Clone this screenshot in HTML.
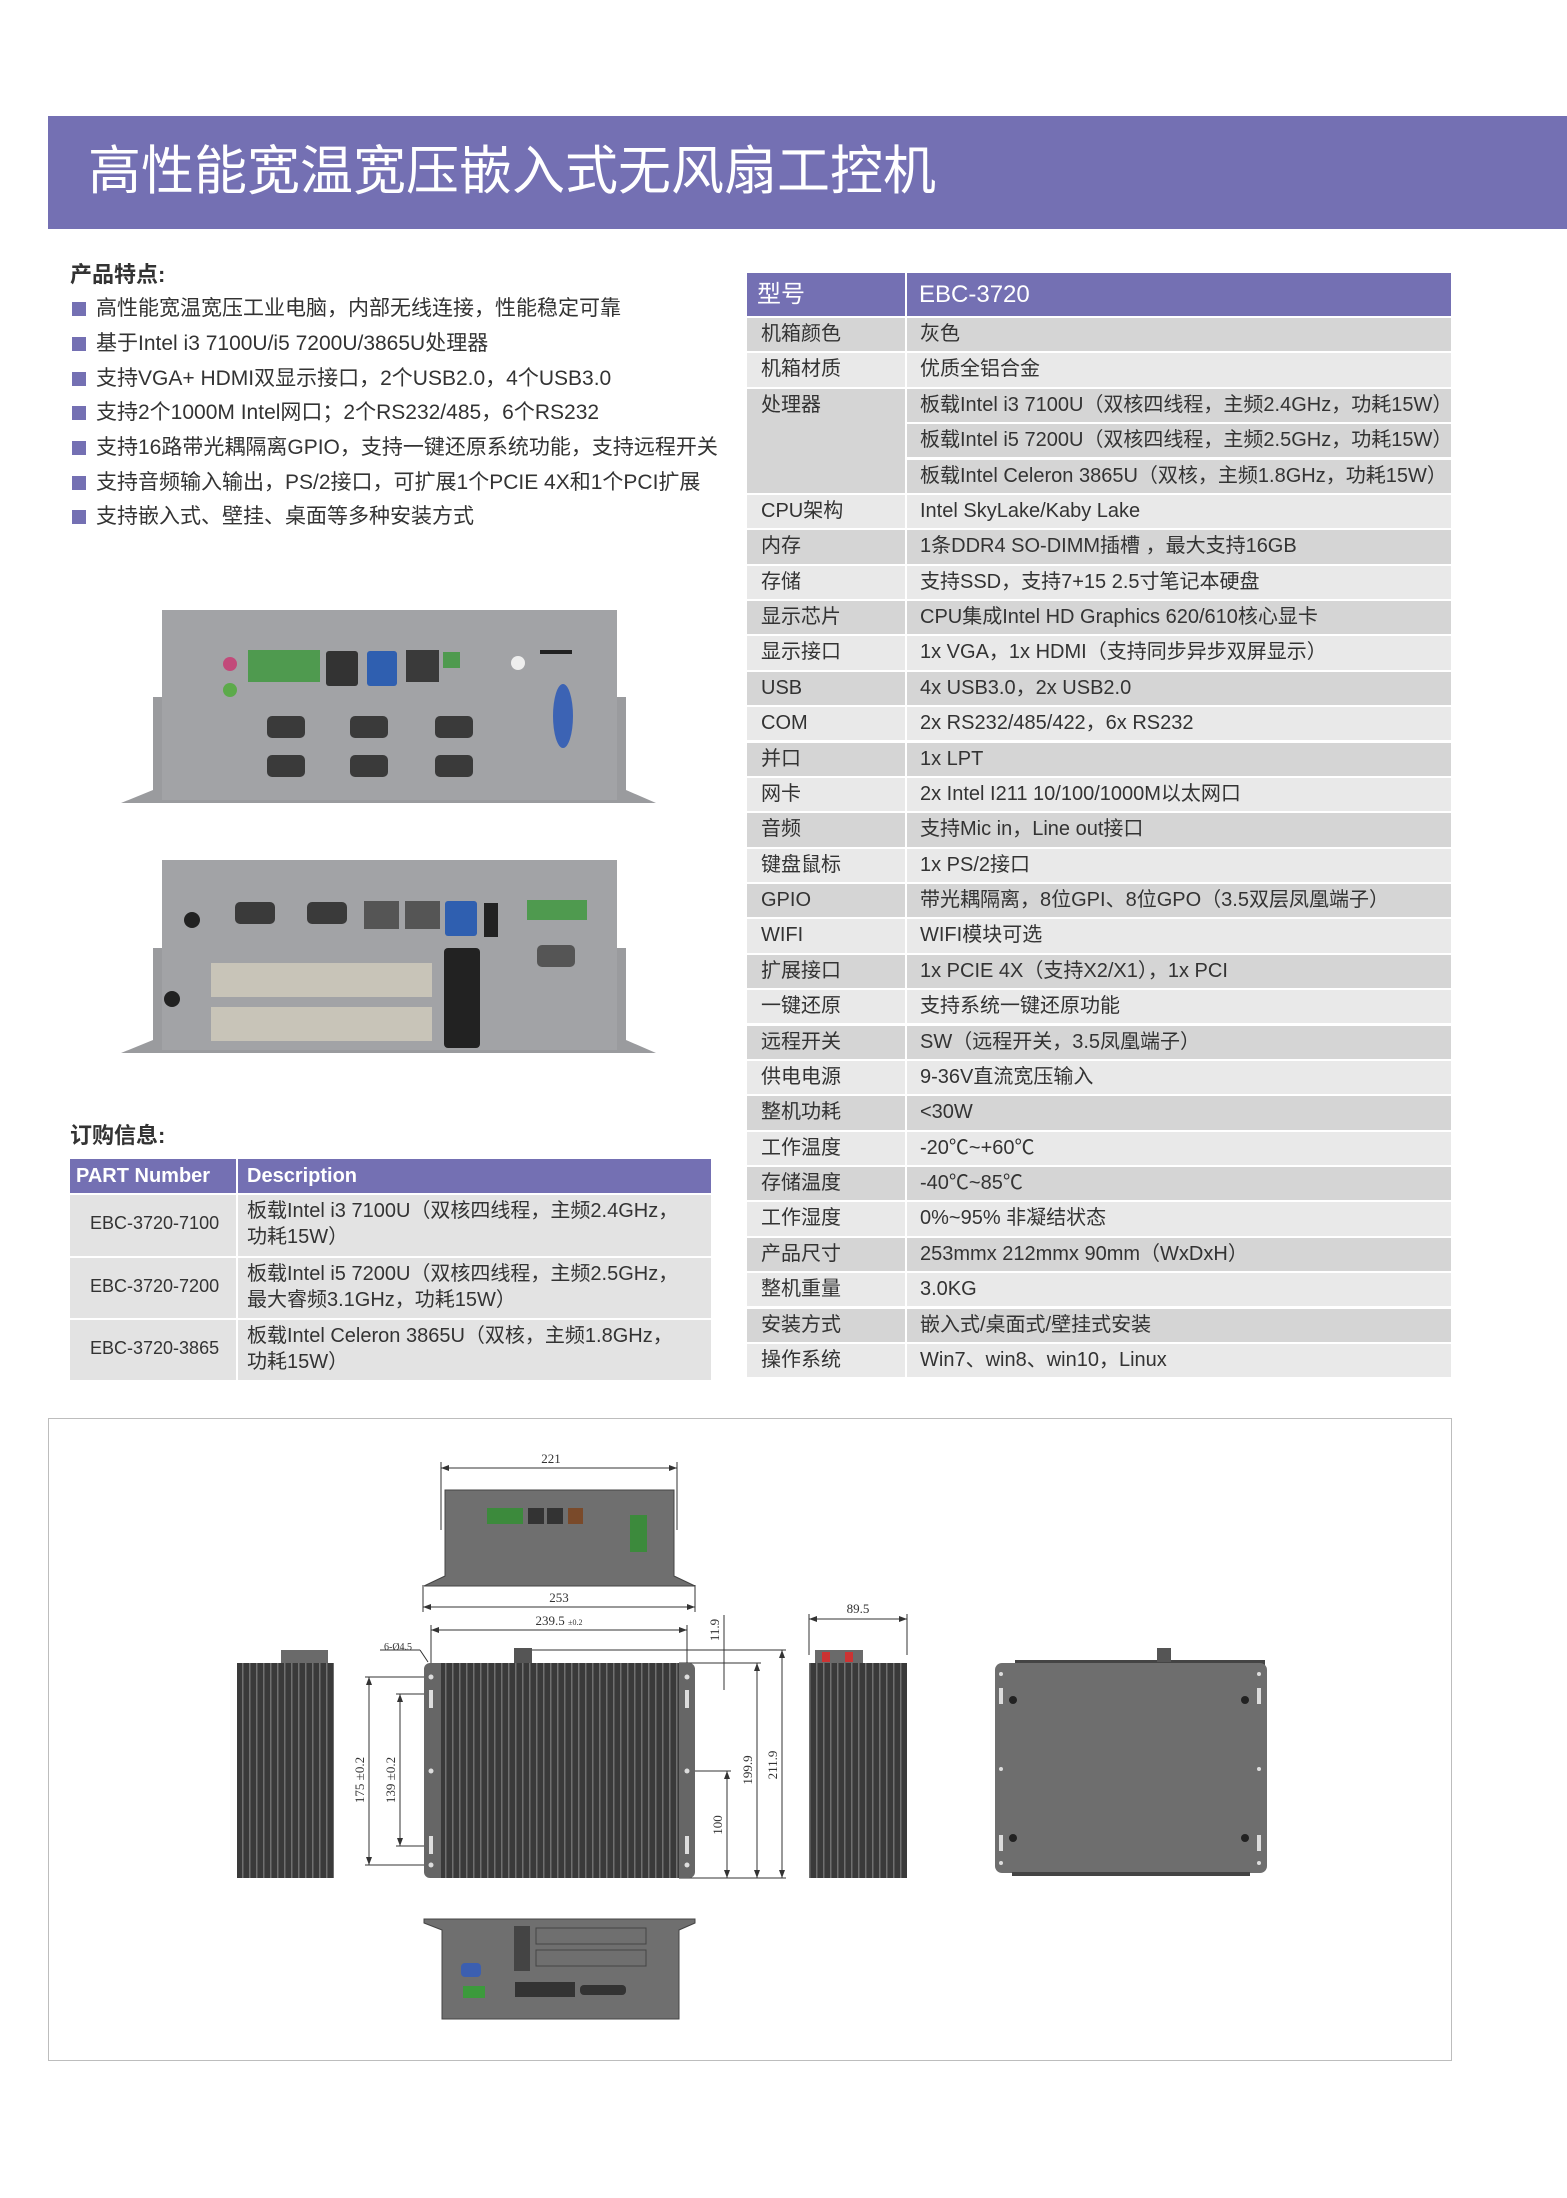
<!DOCTYPE html>
<html><head><meta charset="utf-8">
<style>
*{margin:0;padding:0;box-sizing:border-box}
body{width:1567px;height:2198px;background:#fff;position:relative;overflow:hidden;font-family:"Liberation Sans","Noto Sans CJK SC",sans-serif;color:#333}
.a{position:absolute}
.hdr{left:48px;top:116px;width:1519px;height:113px;background:#7470b3}
.title{left:88px;top:139px;color:#fff;font-size:53px;line-height:66px;letter-spacing:0px;white-space:nowrap}
.h2{font-size:22px;font-weight:bold;color:#333;white-space:nowrap}
.bl{left:72px;font-size:21px;line-height:28px;white-space:nowrap;color:#333}
.bl:before{content:"";display:inline-block;width:14px;height:14px;background:#7470b3;margin-right:10px;vertical-align:-1px}
.r{position:absolute;left:747px;width:704px;height:33.4px;font-size:20px;line-height:33px;color:#333;white-space:nowrap}
.r .l{position:absolute;left:0;top:0;width:158px;height:100%;padding-left:14px}
.r .v{position:absolute;left:160px;top:0;right:0;height:100%;padding-left:13px}
.d .l,.d .v{background:#d5d5d5}
.g .l,.g .v{background:#e9e9e9}
.ot{position:absolute;left:70px;width:641px;font-size:20px;color:#333}
</style></head><body>
<div class="a hdr"></div>
<div class="a title">高性能宽温宽压嵌入式无风扇工控机</div>

<div class="a h2" style="left:70px;top:257px">产品特点:</div>
<div class="a bl" style="top:295px">高性能宽温宽压工业电脑，内部无线连接，性能稳定可靠</div>
<div class="a bl" style="top:330px">基于Intel i3 7100U/i5 7200U/3865U处理器</div>
<div class="a bl" style="top:365px">支持VGA+ HDMI双显示接口，2个USB2.0，4个USB3.0</div>
<div class="a bl" style="top:399px">支持2个1000M Intel网口；2个RS232/485，6个RS232</div>
<div class="a bl" style="top:434px">支持16路带光耦隔离GPIO，支持一键还原系统功能，支持远程开关</div>
<div class="a bl" style="top:469px">支持音频输入输出，PS/2接口，可扩展1个PCIE 4X和1个PCI扩展</div>
<div class="a bl" style="top:503px">支持嵌入式、壁挂、桌面等多种安装方式</div>

<div class="r" style="top:273px;height:43px;color:#fff;font-size:24px;line-height:43px"><div class="l" style="background:#7470b3;padding-left:10px">型号</div><div class="v" style="background:#7470b3;padding-left:12px">EBC-3720</div></div>
<div class="r d" style="top:318.0px"><div class="l">机箱颜色</div><div class="v">灰色</div></div>
<div class="r g" style="top:353.4px"><div class="l">机箱材质</div><div class="v">优质全铝合金</div></div>
<div class="r d" style="top:388.7px;height:104px"><div class="l">处理器</div><div class="v" style="background:none"></div></div>
<div class="r d" style="top:388.7px;left:907px;width:544px"><div class="v" style="left:0">板载Intel i3 7100U（双核四线程，主频2.4GHz，功耗15W）</div></div>
<div class="r d" style="top:424.1px;left:907px;width:544px"><div class="v" style="left:0">板载Intel i5 7200U（双核四线程，主频2.5GHz，功耗15W）</div></div>
<div class="r d" style="top:459.5px;left:907px;width:544px"><div class="v" style="left:0">板载Intel Celeron 3865U（双核，主频1.8GHz，功耗15W）</div></div>
<div class="r g" style="top:494.9px"><div class="l">CPU架构</div><div class="v">Intel SkyLake/Kaby Lake</div></div>
<div class="r d" style="top:530.2px"><div class="l">内存</div><div class="v">1条DDR4 SO-DIMM插槽 ，最大支持16GB</div></div>
<div class="r g" style="top:565.6px"><div class="l">存储</div><div class="v">支持SSD，支持7+15 2.5寸笔记本硬盘</div></div>
<div class="r d" style="top:601.0px"><div class="l">显示芯片</div><div class="v">CPU集成Intel HD Graphics 620/610核心显卡</div></div>
<div class="r g" style="top:636.4px"><div class="l">显示接口</div><div class="v">1x VGA，1x HDMI（支持同步异步双屏显示）</div></div>
<div class="r d" style="top:671.7px"><div class="l">USB</div><div class="v">4x USB3.0，2x USB2.0</div></div>
<div class="r g" style="top:707.1px"><div class="l">COM</div><div class="v">2x RS232/485/422，6x RS232</div></div>
<div class="r d" style="top:742.5px"><div class="l">并口</div><div class="v">1x LPT</div></div>
<div class="r g" style="top:777.9px"><div class="l">网卡</div><div class="v">2x Intel I211 10/100/1000M以太网口</div></div>
<div class="r d" style="top:813.2px"><div class="l">音频</div><div class="v">支持Mic in，Line out接口</div></div>
<div class="r g" style="top:848.6px"><div class="l">键盘鼠标</div><div class="v">1x PS/2接口</div></div>
<div class="r d" style="top:884.0px"><div class="l">GPIO</div><div class="v">带光耦隔离，8位GPI、8位GPO（3.5双层凤凰端子）</div></div>
<div class="r g" style="top:919.4px"><div class="l">WIFI</div><div class="v">WIFI模块可选</div></div>
<div class="r d" style="top:954.7px"><div class="l">扩展接口</div><div class="v">1x PCIE 4X（支持X2/X1），1x PCI</div></div>
<div class="r g" style="top:990.1px"><div class="l">一键还原</div><div class="v">支持系统一键还原功能</div></div>
<div class="r d" style="top:1025.5px"><div class="l">远程开关</div><div class="v">SW（远程开关，3.5凤凰端子）</div></div>
<div class="r g" style="top:1060.9px"><div class="l">供电电源</div><div class="v">9-36V直流宽压输入</div></div>
<div class="r d" style="top:1096.2px"><div class="l">整机功耗</div><div class="v">&lt;30W</div></div>
<div class="r g" style="top:1131.6px"><div class="l">工作温度</div><div class="v">-20℃~+60℃</div></div>
<div class="r d" style="top:1167.0px"><div class="l">存储温度</div><div class="v">-40℃~85℃</div></div>
<div class="r g" style="top:1202.4px"><div class="l">工作湿度</div><div class="v">0%~95% 非凝结状态</div></div>
<div class="r d" style="top:1237.7px"><div class="l">产品尺寸</div><div class="v">253mmx 212mmx 90mm（WxDxH）</div></div>
<div class="r g" style="top:1273.1px"><div class="l">整机重量</div><div class="v">3.0KG</div></div>
<div class="r d" style="top:1308.5px"><div class="l">安装方式</div><div class="v">嵌入式/桌面式/壁挂式安装</div></div>
<div class="r g" style="top:1343.9px"><div class="l">操作系统</div><div class="v">Win7、win8、win10，Linux</div></div>

<div class="a h2" style="left:70px;top:1118px">订购信息:</div>
<div class="ot" style="top:1159px;height:34px;background:#7470b3;color:#fff;font-weight:bold;line-height:34px">
 <div class="a" style="left:6px">PART Number</div>
 <div class="a" style="left:166px;top:0;width:2px;height:34px;background:#fff"></div>
 <div class="a" style="left:177px">Description</div>
</div>
<div class="ot" style="top:1195px;height:61px;background:#e3e3e3">
 <div class="a" style="left:20px;top:18px;font-size:18px">EBC-3720-7100</div>
 <div class="a" style="left:166px;top:0;width:2px;height:61px;background:#fff"></div>
 <div class="a" style="left:177px;top:3px;line-height:26px">板载Intel i3 7100U（双核四线程，主频2.4GHz，<br>功耗15W）</div>
</div>
<div class="ot" style="top:1258px;height:60px;background:#e3e3e3">
 <div class="a" style="left:20px;top:18px;font-size:18px">EBC-3720-7200</div>
 <div class="a" style="left:166px;top:0;width:2px;height:60px;background:#fff"></div>
 <div class="a" style="left:177px;top:3px;line-height:26px">板载Intel i5 7200U（双核四线程，主频2.5GHz，<br>最大睿频3.1GHz，功耗15W）</div>
</div>
<div class="ot" style="top:1320px;height:60px;background:#e3e3e3">
 <div class="a" style="left:20px;top:18px;font-size:18px">EBC-3720-3865</div>
 <div class="a" style="left:166px;top:0;width:2px;height:60px;background:#fff"></div>
 <div class="a" style="left:177px;top:3px;line-height:26px">板载Intel Celeron 3865U（双核，主频1.8GHz，<br>功耗15W）</div>
</div>

<div class="a" style="left:48px;top:1418px;width:1404px;height:643px;border:1.5px solid #bdbdbd"></div>

<svg class="a" style="left:0;top:0" width="1567" height="2198" viewBox="0 0 1567 2198">
<defs>
<pattern id="fin" width="7" height="10" patternUnits="userSpaceOnUse">
<rect width="7" height="10" fill="#3a3a3a"/><rect x="4" width="1.5" height="10" fill="#707070"/>
</pattern>
<marker id="ar" markerWidth="8" markerHeight="8" refX="8" refY="4" orient="auto-start-reverse"><path d="M0,1 L8,4 L0,7 z" fill="#333"/></marker>
</defs>
<path d="M121,803 L153,790 L153,697 L162,697 L162,610 L617,610 L617,697 L626,697 L626,790 L656,803 Z" fill="#9a9b9e"/>
<rect x="162" y="610" width="455" height="190" fill="#a2a3a6"/>
<rect x="248" y="650" width="72" height="32" fill="#4f9a4f"/>
<rect x="326" y="651" width="32" height="35" rx="3" fill="#333"/>
<rect x="367" y="651" width="30" height="35" rx="3" fill="#2f5fb0"/>
<rect x="406" y="650" width="33" height="32" fill="#3a3a3a"/>
<rect x="443" y="652" width="17" height="16" fill="#4f9a4f"/>
<circle cx="230" cy="664" r="7" fill="#c24a7a"/><circle cx="230" cy="690" r="7" fill="#5caa4a"/>
<circle cx="518" cy="663" r="7" fill="#eee"/>
<rect x="540" y="650" width="32" height="4" fill="#222"/>
<ellipse cx="563" cy="716" rx="10" ry="32" fill="#3c63b4"/>
<g fill="#3a3a3a"><rect x="267" y="716" width="38" height="22" rx="5"/><rect x="350" y="716" width="38" height="22" rx="5"/><rect x="435" y="716" width="38" height="22" rx="5"/>
<rect x="267" y="755" width="38" height="22" rx="5"/><rect x="350" y="755" width="38" height="22" rx="5"/><rect x="435" y="755" width="38" height="22" rx="5"/></g>
<path d="M121,1053 L153,1040 L153,948 L162,948 L162,860 L617,860 L617,948 L626,948 L626,1040 L656,1053 Z" fill="#9a9b9e"/>
<rect x="162" y="860" width="455" height="190" fill="#a2a3a6"/>
<circle cx="192" cy="920" r="8" fill="#222"/><circle cx="172" cy="999" r="8" fill="#222"/>
<g fill="#3a3a3a"><rect x="235" y="902" width="40" height="22" rx="5"/><rect x="307" y="902" width="40" height="22" rx="5"/></g>
<rect x="364" y="901" width="35" height="28" fill="#555"/><rect x="405" y="901" width="35" height="28" fill="#555"/>
<rect x="445" y="901" width="32" height="35" rx="3" fill="#2f5fb0"/>
<rect x="484" y="903" width="14" height="34" fill="#222"/>
<rect x="527" y="900" width="60" height="20" fill="#4f9a4f"/>
<rect x="537" y="945" width="38" height="22" rx="5" fill="#555"/>
<rect x="211" y="963" width="221" height="34" fill="#c8c4b8"/>
<rect x="211" y="1007" width="221" height="34" fill="#c8c4b8"/>
<rect x="444" y="948" width="36" height="100" rx="4" fill="#222"/>

<g stroke="#333" stroke-width="1" fill="none">
<line x1="441" y1="1468" x2="677" y2="1468" marker-start="url(#ar)" marker-end="url(#ar)"/>
<line x1="441" y1="1462" x2="441" y2="1530"/><line x1="677" y1="1462" x2="677" y2="1530"/>
<line x1="423" y1="1607" x2="695" y2="1607" marker-start="url(#ar)" marker-end="url(#ar)"/>
<line x1="423" y1="1585" x2="423" y2="1612"/><line x1="695" y1="1585" x2="695" y2="1612"/>
<line x1="431" y1="1630" x2="687" y2="1630" marker-start="url(#ar)" marker-end="url(#ar)"/>
<line x1="431" y1="1625" x2="431" y2="1680"/><line x1="687" y1="1625" x2="687" y2="1680"/>
<line x1="809" y1="1619" x2="907" y2="1619" marker-start="url(#ar)" marker-end="url(#ar)"/>
<line x1="809" y1="1614" x2="809" y2="1655"/><line x1="907" y1="1614" x2="907" y2="1655"/>
<line x1="369" y1="1677" x2="369" y2="1865" marker-start="url(#ar)" marker-end="url(#ar)"/>
<line x1="365" y1="1677" x2="424" y2="1677"/><line x1="365" y1="1865" x2="424" y2="1865"/>
<line x1="400" y1="1694" x2="400" y2="1846" marker-start="url(#ar)" marker-end="url(#ar)"/>
<line x1="396" y1="1694" x2="424" y2="1694"/><line x1="396" y1="1846" x2="424" y2="1846"/>
<line x1="727" y1="1771" x2="727" y2="1878" marker-start="url(#ar)" marker-end="url(#ar)"/>
<line x1="695" y1="1771" x2="731" y2="1771"/>
<line x1="757" y1="1663" x2="757" y2="1878" marker-start="url(#ar)" marker-end="url(#ar)"/>
<line x1="679" y1="1663" x2="761" y2="1663"/>
<line x1="782" y1="1650" x2="782" y2="1878" marker-start="url(#ar)" marker-end="url(#ar)"/>
<line x1="532" y1="1650" x2="786" y2="1650"/><line x1="679" y1="1878" x2="786" y2="1878"/>
<line x1="724" y1="1615" x2="724" y2="1690"/>
<line x1="380" y1="1650" x2="420" y2="1650"/><line x1="420" y1="1650" x2="428" y2="1662"/>
</g>
<g font-family="Liberation Serif,serif" font-size="13" fill="#333">
<text x="551" y="1463" text-anchor="middle">221</text>
<text x="559" y="1602" text-anchor="middle">253</text>
<text x="559" y="1625" text-anchor="middle">239.5 <tspan font-size="8">±0.2</tspan></text>
<text x="858" y="1613" text-anchor="middle">89.5</text>
<text x="384" y="1650" font-size="10">6-Ø4.5</text>
<text transform="translate(364,1780) rotate(-90)" text-anchor="middle">175 ±0.2</text>
<text transform="translate(395,1780) rotate(-90)" text-anchor="middle">139 ±0.2</text>
<text transform="translate(722,1825) rotate(-90)" text-anchor="middle">100</text>
<text transform="translate(752,1770) rotate(-90)" text-anchor="middle">199.9</text>
<text transform="translate(777,1765) rotate(-90)" text-anchor="middle">211.9</text>
<text transform="translate(719,1630) rotate(-90)" text-anchor="middle">11.9</text>
</g>
<path d="M424,1586 L445,1576 L445,1490 L674,1490 L674,1576 L695,1586 Z" fill="#6f6f6f" stroke="#444"/>
<rect x="487" y="1508" width="36" height="16" fill="#3c8a3c"/>
<rect x="528" y="1508" width="16" height="16" fill="#333"/><rect x="547" y="1508" width="16" height="16" fill="#333"/>
<rect x="568" y="1508" width="15" height="16" fill="#7a4a2a"/>
<rect x="630" y="1515" width="17" height="37" fill="#3c8a3c"/>
<rect x="281" y="1650" width="47" height="14" fill="#6a6a6a"/>
<rect x="237" y="1663" width="97" height="215" fill="url(#fin)"/>
<rect x="815" y="1650" width="48" height="14" fill="#6a6a6a"/>
<rect x="822" y="1652" width="8" height="10" fill="#c33"/><rect x="845" y="1652" width="8" height="10" fill="#c33"/>
<rect x="809" y="1663" width="98" height="215" fill="url(#fin)"/>
<rect x="424" y="1663" width="271" height="215" rx="6" fill="#666"/>
<rect x="514" y="1648" width="18" height="16" fill="#555"/>
<rect x="441" y="1663" width="238" height="215" fill="url(#fin)"/>
<g fill="#ddd"><circle cx="431" cy="1677" r="2.5"/><circle cx="431" cy="1771" r="2.5"/><circle cx="431" cy="1865" r="2.5"/>
<circle cx="687" cy="1677" r="2.5"/><circle cx="687" cy="1771" r="2.5"/><circle cx="687" cy="1865" r="2.5"/>
<rect x="429" y="1690" width="4" height="18"/><rect x="429" y="1836" width="4" height="18"/>
<rect x="685" y="1690" width="4" height="18"/><rect x="685" y="1836" width="4" height="18"/></g>
<rect x="1015" y="1660" width="250" height="5" fill="#444"/>
<rect x="1157" y="1648" width="14" height="14" fill="#555"/>
<rect x="995" y="1663" width="272" height="210" rx="7" fill="#6e6e6e"/>
<rect x="1012" y="1872" width="238" height="4" fill="#444"/>
<g fill="#ddd"><circle cx="1001" cy="1674" r="2"/><circle cx="1001" cy="1769" r="2"/><circle cx="1001" cy="1863" r="2"/>
<circle cx="1259" cy="1674" r="2"/><circle cx="1259" cy="1769" r="2"/><circle cx="1259" cy="1863" r="2"/>
<rect x="999" y="1688" width="4" height="16"/><rect x="999" y="1835" width="4" height="16"/>
<rect x="1257" y="1688" width="4" height="16"/><rect x="1257" y="1835" width="4" height="16"/></g>
<g fill="#222"><circle cx="1013" cy="1700" r="4"/><circle cx="1245" cy="1700" r="4"/><circle cx="1013" cy="1838" r="4"/><circle cx="1245" cy="1838" r="4"/></g>
<path d="M424,1919 L695,1919 L695,1923 L679,1930 L679,2019 L442,2019 L442,1930 L424,1923 Z" fill="#6f6f6f" stroke="#444"/>
<rect x="514" y="1926" width="16" height="45" fill="#444"/>
<rect x="536" y="1928" width="110" height="16" fill="none" stroke="#444"/>
<rect x="536" y="1950" width="110" height="16" fill="none" stroke="#444"/>
<rect x="461" y="1963" width="20" height="14" rx="4" fill="#3c5fb0"/>
<rect x="463" y="1986" width="22" height="12" fill="#3c9a3c"/>
<rect x="515" y="1982" width="60" height="15" fill="#333"/>
<rect x="580" y="1985" width="46" height="10" rx="4" fill="#333"/>
</svg>
</body></html>
